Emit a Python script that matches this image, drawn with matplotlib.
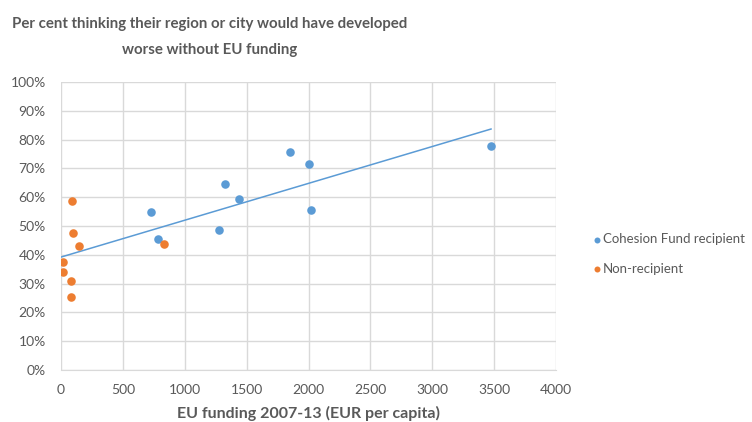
import numpy as np
import matplotlib.pyplot as plt
from matplotlib.ticker import FuncFormatter

# EU funding 2007-13 (EUR per capita) vs share thinking their area would be worse off
cohesion_funding = [727, 786, 1278, 1326, 1442, 1847, 2004, 2023, 3475]
cohesion_share = [54.7, 45.5, 48.5, 64.5, 59.5, 75.8, 71.6, 55.6, 77.9]

non_funding = [89, 100, 148, 19, 19, 78, 78, 835]
non_share = [58.7, 47.7, 43.1, 37.6, 34.1, 30.8, 25.3, 43.9]

x_ticks = [0, 500, 1000, 1500, 2000, 2500, 3000, 3500, 4000]
y_ticks = [0, 10, 20, 30, 40, 50, 60, 70, 80, 90, 100]

blue = '#5B9BD5'
orange = '#ED7D31'
grey_text = '#595959'

plt.rcParams['font.family'] = ['Lato', 'DejaVu Sans']

fig = plt.figure(figsize=(7.52, 4.22), dpi=100)
ax = fig.add_axes([61 / 752, 1 - 370 / 422, 495 / 752, 288 / 422])

ax.scatter(cohesion_funding, cohesion_share, s=38, color=blue, zorder=3,
           label='Cohesion Fund recipient', linewidths=0)
ax.scatter(non_funding, non_share, s=38, color=orange, zorder=3,
           label='Non-recipient', linewidths=0)

# linear trend over all regions
all_x = np.array(cohesion_funding + non_funding)
all_y = np.array(cohesion_share + non_share)
slope, intercept = np.polyfit(all_x, all_y, 1)
line_x = np.array([0, all_x.max()])
ax.plot(line_x, slope * line_x + intercept, color=blue, lw=1.1, zorder=2)

ax.set_xlim(0, 4000)
ax.set_ylim(0, 100)
ax.set_xticks(x_ticks)
ax.set_yticks(y_ticks)
ax.yaxis.set_major_formatter(FuncFormatter(lambda v, p: f'{v:.0f}%'))
ax.grid(True, color='#D9D9D9', lw=1)
ax.set_axisbelow(True)
for side in ['top', 'right', 'left']:
    ax.spines[side].set_visible(False)
ax.spines['bottom'].set_color('#D9D9D9')
ax.tick_params(length=0, labelsize=10, colors=grey_text)
ax.tick_params(axis='y', pad=11)
ax.tick_params(axis='x', pad=10)

ax.set_xlabel('EU funding 2007-13 (EUR per capita)', fontsize=11.5,
              fontweight='bold', color=grey_text, labelpad=7)

fig.text(210 / 752, 1 - 17 / 422, 'Per cent thinking their region or city would have developed\nworse without EU funding',
         ha='center', va='top', fontsize=10.8, fontweight='bold', color=grey_text,
         linespacing=2.05)

# legend sits to the right of the plot, anchored in figure coords
ax.legend(loc='center left', bbox_to_anchor=((598 - 19) / 752, 1 - 254 / 422),
          bbox_transform=fig.transFigure, frameon=False,
          fontsize=9.5, handletextpad=-0.6, labelspacing=1.3, markerscale=0.7,
          labelcolor=grey_text, borderaxespad=0)

fig.savefig('out.png', dpi=100)
